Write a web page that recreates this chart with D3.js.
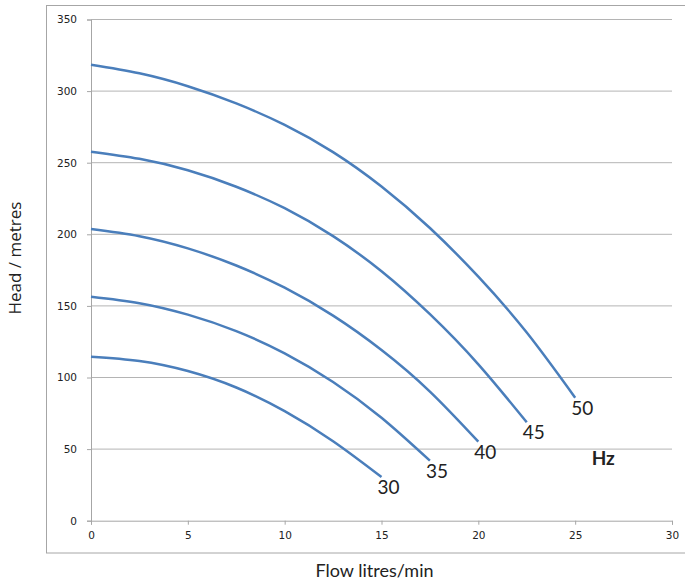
<!DOCTYPE html>
<html>
<head>
<meta charset="utf-8">
<script src="https://cdn.jsdelivr.net/npm/d3@7"></script>
<style>
	body { margin: 0; background: #fff; }
	.axis text { font-family: 'DejaVu Sans', Verdana, sans-serif; font-size: 10.5px; fill: #222; }
	.axis path, .axis line { stroke: #a6a6a6; }
</style>
</head>
<body>
<div class="pumpcurve"></div>
<script>
// flow steps (litres/min) and head (metres), one array per frequency
const flow30 = [ 0, 2.5, 5, 7.5, 10, 12.5, 15 ];
const head30 = [ 114.5, 111.5, 104.5, 93, 76.5, 55.5, 30.5 ];

const flow35 = [ 0, 2.5, 5, 7.5, 10, 12.5, 15, 17.5 ];
const head35 = [ 156.4, 151.9, 143.9, 132.4, 116.9, 96.9, 71.9, 41.9 ];

const flow40 = [ 0, 2.5, 5, 7.5, 10, 12.5, 15, 17.5, 20 ];
const head40 = [ 203.7, 198.7, 190.2, 178.2, 162.7, 143.2, 119.2, 90.2, 55.2 ];

const flow45 = [ 0, 2.5, 5, 7.5, 10, 12.5, 15, 17.5, 20, 22.5 ];
const head45 = [ 257.7, 252.7, 244.7, 233.2, 218.2, 198.7, 174.2, 144.2, 109.2, 68.7 ];

const flow50 = [ 0, 2.5, 5, 7.5, 10, 12.5, 15, 17.5, 20, 22.5, 25 ];
const head50 = [ 318.4, 312.4, 303.4, 291.4, 276.4, 257.4, 233.4, 204.4, 170.4, 131.4, 85.9 ];

const freqLabels = [ '30', '35', '40', '45', '50' ];
const xTicks = [ 0, 5, 10, 15, 20, 25, 30 ];
const yTicks = [ 0, 50, 100, 150, 200, 250, 300, 350 ];

const curves = [
	{ label: freqLabels[0], flow: flow30, head: head30 },
	{ label: freqLabels[1], flow: flow35, head: head35 },
	{ label: freqLabels[2], flow: flow40, head: head40 },
	{ label: freqLabels[3], flow: flow45, head: head45 },
	{ label: freqLabels[4], flow: flow50, head: head50 }
];

const W = 685;
const H = 583;
const margin = { top: 19.5, right: 13, bottom: 62.3, left: 91 };
const width = W - margin.left - margin.right;
const height = H - margin.top - margin.bottom;

const x = d3.scaleLinear().domain([ 0, 30 ]).range([ 0, width ]);
const y = d3.scaleLinear().domain([ 0, 350 ]).range([ height, 0 ]);

const svgRoot = d3.select('.pumpcurve').append('svg').attr('width', W).attr('height', H);

// outer chart frame (runs off the right edge)
svgRoot
	.append('rect')
	.attr('x', 46.5)
	.attr('y', 5.5)
	.attr('width', 660)
	.attr('height', 547.5)
	.attr('fill', 'none')
	.attr('stroke', '#a6a6a6');

const svg = svgRoot.append('g').attr('transform', 'translate(' + margin.left + ',' + margin.top + ')');

//horizontal gridlines
svg
	.selectAll('.grid')
	.data(yTicks.filter((d) => d > 0))
	.enter()
	.append('line')
	.attr('class', 'grid')
	.attr('x1', 0)
	.attr('x2', width)
	.attr('y1', (d) => y(d))
	.attr('y2', (d) => y(d))
	.attr('stroke', '#b4b4b4')
	.attr('stroke-width', 1);

const xAxis = d3.axisBottom(x).tickValues(xTicks).tickSize(4).tickPadding(7);
const yAxis = d3.axisLeft(y).tickValues(yTicks).tickSize(4).tickPadding(10);

svg.append('g').attr('class', 'axis').attr('transform', 'translate(0,' + height + ')').call(xAxis);
svg.append('g').attr('class', 'axis').call(yAxis);

const line = d3
	.line()
	.x((d) => x(d[0]))
	.y((d) => y(d[1]))
	.curve(d3.curveNatural);

curves.forEach((c) => {
	const pts = c.flow.map((f, i) => [ f, c.head[i] ]);
	svg
		.append('path')
		.datum(pts)
		.attr('d', line)
		.attr('fill', 'none')
		.attr('stroke', '#4a7ebb')
		.attr('stroke-width', 2.5);

	//frequency label just under the end of each curve
	const last = pts[pts.length - 1];
	svg
		.append('text')
		.attr('x', x(last[0]) - 4)
		.attr('y', y(last[1]) + 17)
		.attr('font-family', 'Lato, sans-serif')
		.attr('font-size', '19px')
		.attr('fill', '#222')
		.text(c.label);
});

svg
	.append('text')
	.attr('x', x(25.85))
	.attr('y', y(39))
	.attr('font-family', 'Lato, sans-serif')
	.attr('font-weight', 'bold')
	.attr('font-size', '19px')
	.attr('fill', '#222')
	.text('Hz');

//axis titles
svgRoot
	.append('text')
	.attr('x', 374.5)
	.attr('y', 576.5)
	.style('text-anchor', 'middle')
	.attr('font-family', 'Lato, sans-serif')
	.attr('font-size', '18px')
	.attr('fill', '#222')
	.text('Flow litres/min');

svgRoot
	.append('text')
	.attr('transform', 'translate(21,258) rotate(-90)')
	.style('text-anchor', 'middle')
	.attr('font-family', "'Open Sans', sans-serif")
	.attr('font-size', '17px')
	.attr('fill', '#222')
	.text('Head / metres');
</script>
</body>
</html>
